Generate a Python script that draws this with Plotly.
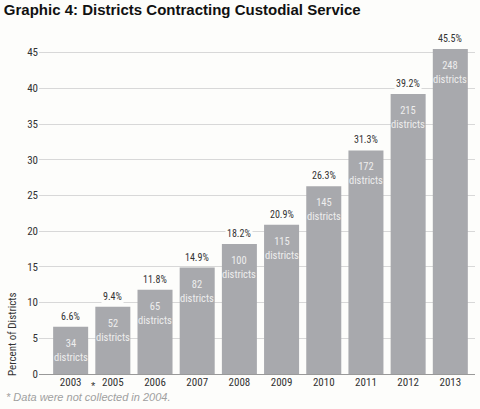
import plotly.graph_objs as go

years = ["2003", "2005", "2006", "2007", "2008", "2009", "2010", "2011", "2012", "2013"]
percents = [6.6, 9.4, 11.8, 14.9, 18.2, 20.9, 26.3, 31.3, 39.2, 45.5]
districts = [34, 52, 65, 82, 100, 115, 145, 172, 215, 248]
y_ticks = [0, 5, 10, 15, 20, 25, 30, 35, 40, 45]

bg = "#fdfdfb"
bar_color = "#a8a9ad"
narrow = "Roboto Condensed, Liberation Sans Narrow, DejaVu Sans Condensed, Roboto, sans-serif"

fig = go.Figure()
fig.add_trace(go.Bar(
    x=years,
    y=percents,
    marker=dict(color=bar_color, line=dict(width=0)),
    width=0.83,
    hoverinfo="skip",
))

annotations = []
for i, (p, d) in enumerate(zip(percents, districts)):
    # percent above the bar, masking the gridline behind it
    annotations.append(dict(
        x=i, y=p, xref="x", yref="y", text=f"{p}%", showarrow=False,
        yanchor="bottom", yshift=3,
        font=dict(family=narrow, size=10, color="#333333"),
        bgcolor=bg, borderpad=1,
    ))
    # district count inside the top of the bar
    annotations.append(dict(
        x=i, y=p, xref="x", yref="y", text=f"{d}<br>districts", showarrow=False,
        yanchor="top", yshift=-8,
        font=dict(family=narrow, size=10.5, color="#eeeeee"),
    ))

# asterisk for the missing 2004 year
annotations.append(dict(
    x=0.53, y=0, xref="x", yref="y", text="*", showarrow=False,
    yanchor="top", yshift=-4,
    font=dict(family="Liberation Sans, Arial", size=11, color="#333333"),
))
annotations.append(dict(
    x=-0.08, y=0, xref="paper", yref="paper", xanchor="left", yanchor="bottom",
    yshift=-31,
    text="<i>* Data were not collected in 2004.</i>", showarrow=False,
    font=dict(family="Liberation Sans, Arial", size=11, color="#a0a0a0"),
))
annotations.append(dict(
    x=-0.062, y=0, xref="paper", yref="y", xanchor="center", yanchor="bottom",
    yshift=-4, textangle=-90,
    text="Percent of Districts", showarrow=False,
    font=dict(family=narrow, size=11, color="#333333"),
))

fig.update_layout(
    width=480, height=409,
    paper_bgcolor=bg, plot_bgcolor=bg,
    margin=dict(l=39, r=5, t=49, b=35),
    showlegend=False,
    title=dict(
        text="<b>Graphic 4: Districts Contracting Custodial Service</b>",
        x=0.008, xanchor="left", y=0.99, yanchor="top",
        font=dict(family="Liberation Sans, Arial", size=15, color="#111111"),
    ),
    annotations=annotations,
)
fig.update_xaxes(
    type="category",
    range=[-0.75, 9.585],
    automargin=False,
    showgrid=False,
    showline=False,
    ticks="",
    tickfont=dict(family=narrow, size=11, color="#333333"),
)
fig.update_yaxes(
    range=[0, 45.5],
    automargin=False,
    tickvals=y_ticks,
    showgrid=True,
    gridcolor="#d8d8d8",
    gridwidth=1,
    zeroline=True,
    zerolinecolor="#999999",
    zerolinewidth=1,
    ticks="",
    tickfont=dict(family=narrow, size=11, color="#333333"),
)

# drop the browser's default body margin so the figure sits at the page corner
fig.write_html("out.html", config={"displayModeBar": False},
               post_script="document.body.style.margin='0px';")
